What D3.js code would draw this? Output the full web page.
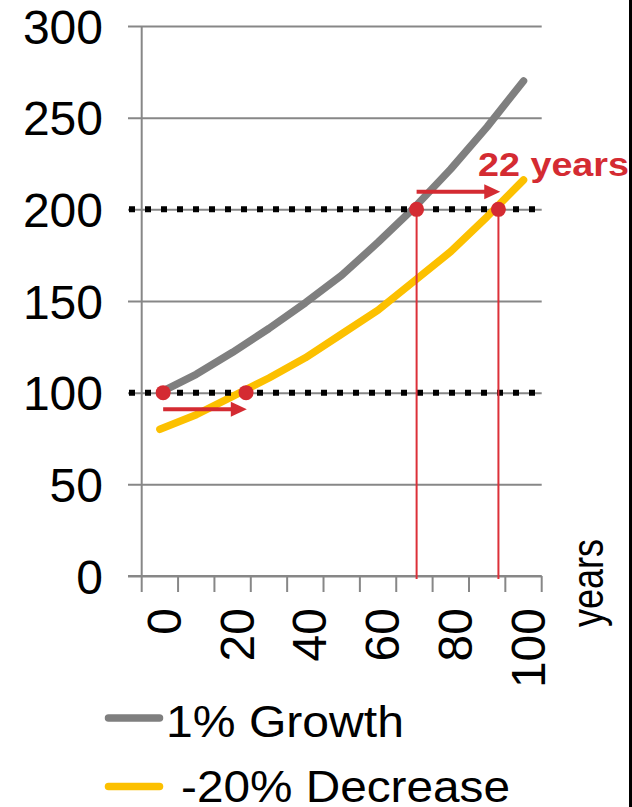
<!DOCTYPE html>
<html lang="en">
<head>
    <meta charset="UTF-8">
    <title>Growth vs decrease</title>
    <script src="https://d3js.org/d3.v7.min.js"></script>
    <style>
        body {margin: 0; background: #fff;}
        text {font-family: "Liberation Sans", Arial, sans-serif;}
    </style>
</head>
<body>
<script>
    const width  = 632;
    const height = 807;

    // data
    const years    = [0, 10, 20, 30, 40, 50, 60, 70, 80, 90, 100];
    const growth   = [100, 110, 122, 135, 149, 164, 182, 201, 222, 245, 270];
    const decrease = [80, 88, 98, 108, 119, 132, 145, 161, 177, 196, 216];
    const yTicks   = [0, 50, 100, 150, 200, 250, 300];
    const xLabels  = [0, 20, 40, 60, 80, 100];
    const seriesNames = ["1% Growth", "-20% Decrease"];

    // annotation points (year, value)
    const marks    = [[0.9, 100], [23.7, 100], [70.6, 200], [93.1, 200]];
    const arrows   = [[0.9, 23.9, 90.9], [70.6, 93.6, 209.6]];
    const refLines = [100, 200];

    const grey = "#7f7f7f", gold = "#fcc000", red = "#d42b32", gridColor = "#878787";

    const x = d3.scaleLinear().domain([-5, 105]).range([141.7, 541.7]);
    const y = d3.scaleLinear().domain([0, 300]).range([576, 26]);

    const svg = d3.select("body").append("svg").attr("width", width).attr("height", height);
    svg.append("rect").attr("width", width).attr("height", height).attr("fill", "#fff");

    // y gridlines + labels
    const yAxis = d3.axisLeft(y).tickValues(yTicks).tickSize(-(541.7 - 128)).tickPadding(25);
    const gy = svg.append("g").attr("transform", "translate(128,0)").call(yAxis);
    gy.select(".domain").remove();
    gy.selectAll(".tick line").attr("stroke", gridColor).attr("stroke-width", 2);
    gy.selectAll(".tick text").attr("font-size", 48).attr("fill", "#000")
        .attr("font-family", "Liberation Sans, Arial, sans-serif").attr("dy", "0.36em");

    // axis lines
    svg.append("line").attr("x1", x(-5)).attr("x2", x(-5)).attr("y1", y(300)).attr("y2", y(0))
        .attr("stroke", gridColor).attr("stroke-width", 2);
    svg.append("line").attr("x1", 128).attr("x2", x(105)).attr("y1", y(0)).attr("y2", y(0))
        .attr("stroke", gridColor).attr("stroke-width", 2);

    // x ticks at category borders
    const borders = years.map(d => d - 5).concat([105]);
    svg.append("g").selectAll("line").data(borders).join("line")
        .attr("x1", d => x(d)).attr("x2", d => x(d))
        .attr("y1", y(0)).attr("y2", y(0) + 16)
        .attr("stroke", gridColor).attr("stroke-width", 2);

    svg.append("g").selectAll("text").data(xLabels).join("text")
        .attr("transform", d => "translate(" + [x(d), 608] + ") rotate(-90)")
        .attr("y", 21)
        .attr("text-anchor", "end")
        .attr("font-size", 48)
        .text(d => d);

    svg.append("text")
        .attr("transform", "translate(603,539) rotate(-90)")
        .attr("text-anchor", "end")
        .attr("font-size", 45)
        .attr("textLength", 88).attr("lengthAdjust", "spacingAndGlyphs")
        .text("years");

    // series
    const line = d3.line().x((d, i) => x(years[i])).y(d => y(d));
    [[growth, grey], [decrease, gold]].forEach(([vals, col]) => {
        svg.append("path")
            .attr("d", line(vals))
            .attr("fill", "none")
            .attr("stroke", col)
            .attr("stroke-width", 7.5)
            .attr("stroke-linecap", "round")
            .attr("stroke-linejoin", "round");
    });

    // dotted reference lines
    svg.append("g").selectAll("line").data(refLines).join("line")
        .attr("x1", 129).attr("x2", x(105))
        .attr("y1", d => y(d)).attr("y2", d => y(d))
        .attr("stroke", "#000").attr("stroke-width", 6)
        .attr("stroke-dasharray", "6 10");

    // red verticals
    svg.append("g").selectAll("line").data(marks.slice(2)).join("line")
        .attr("x1", d => x(d[0])).attr("x2", d => x(d[0]))
        .attr("y1", d => y(d[1])).attr("y2", y(0) + 3)
        .attr("stroke", "#dc3039").attr("stroke-width", 2);

    // arrows
    arrows.forEach(([a, b, v]) => {
        const x1 = x(a), x2 = x(b), yy = y(v);
        svg.append("line").attr("x1", x1).attr("x2", x2 - 12).attr("y1", yy).attr("y2", yy)
            .attr("stroke", red).attr("stroke-width", 4);
        svg.append("path")
            .attr("d", "M" + x2 + "," + yy + "L" + (x2 - 16) + "," + (yy - 7.5) + "L" + (x2 - 16) + "," + (yy + 7.5) + "Z")
            .attr("fill", red);
    });

    // dots
    svg.append("g").selectAll("circle").data(marks).join("circle")
        .attr("cx", d => x(d[0])).attr("cy", d => y(d[1])).attr("r", 7.5)
        .attr("fill", red);

    svg.append("text")
        .attr("x", 478).attr("y", 176)
        .attr("font-size", 34).attr("font-weight", "bold").attr("fill", red)
        .attr("textLength", 151).attr("lengthAdjust", "spacingAndGlyphs")
        .text("22 years");

    // legend
    const legend = svg.append("g");
    const legendY = [718, 786.5];
    const legendText = [[166, 737, 238], [181, 802, 329]];
    [grey, gold].forEach((col, i) => {
        legend.append("line")
            .attr("x1", 108.5).attr("x2", 159.5)
            .attr("y1", legendY[i]).attr("y2", legendY[i])
            .attr("stroke", col).attr("stroke-width", 7.5).attr("stroke-linecap", "round");
        legend.append("text")
            .attr("x", legendText[i][0]).attr("y", legendText[i][1])
            .attr("font-size", 45)
            .attr("textLength", legendText[i][2]).attr("lengthAdjust", "spacingAndGlyphs")
            .text(seriesNames[i]);
    });

    // black strip at the right edge
    svg.append("rect").attr("x", 629).attr("y", 0).attr("width", 3).attr("height", height).attr("fill", "#000");
</script>
</body>
</html>
